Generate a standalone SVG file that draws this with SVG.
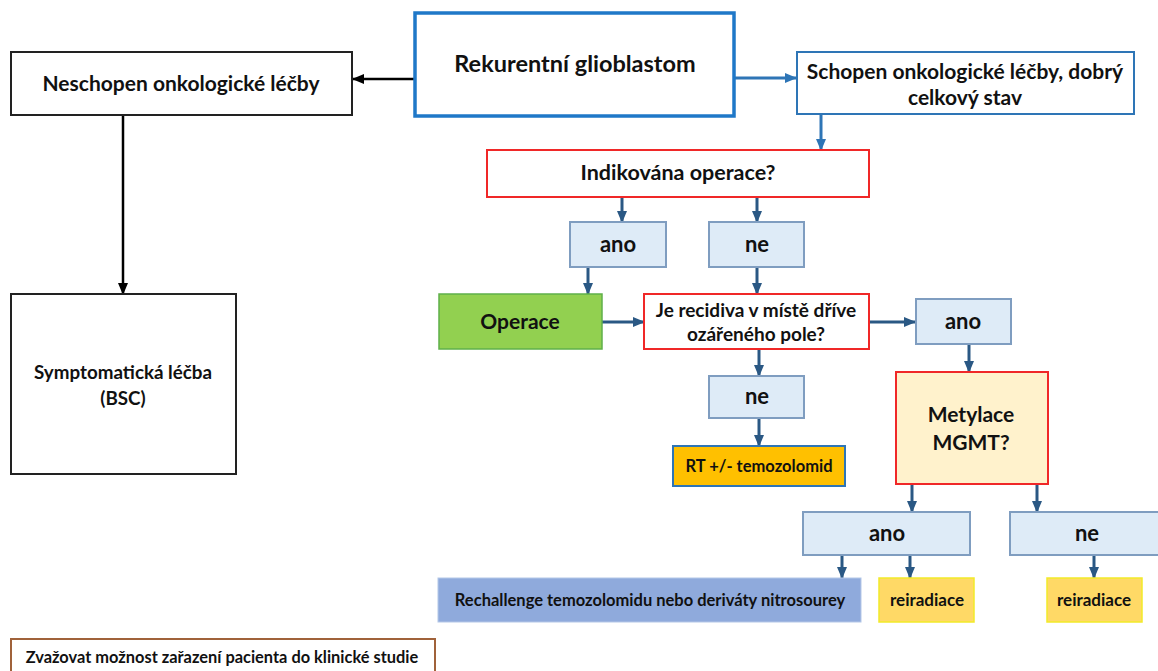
<svg xmlns="http://www.w3.org/2000/svg" width="1158" height="671" viewBox="0 0 1158 671">
<defs>
<style>
text{font-family:Lato,"Liberation Sans",sans-serif;font-weight:bold;fill:#111;text-anchor:middle}
.t23{font-size:23.5px}.t21{font-size:21px}.t22{font-size:22px}.t19{font-size:18.8px}.t17{font-size:19px}.t16{font-size:16.5px}
.blk{fill:#fff;stroke:#222;stroke-width:2}
.blu{fill:#fff;stroke:#2E75B6;stroke-width:2}
.red{fill:#fff;stroke:#F02828;stroke-width:2}
.lb{fill:#DEEBF7;stroke:#7F9DC0;stroke-width:2}
.yel{fill:#FFD966;stroke:#F2EA2A;stroke-width:1.5}
.ca{fill:none;stroke:#2A5884;stroke-width:3}
.cb{fill:none;stroke:#2E75B6;stroke-width:3}
.ck{fill:none;stroke:#000;stroke-width:2.5}
</style>
<marker id="ad" markerUnits="userSpaceOnUse" markerWidth="12" markerHeight="12" refX="11" refY="6" orient="auto"><path d="M0,1 L12,6 L0,11 Z" fill="#2A5884"/></marker>
<marker id="ab" markerUnits="userSpaceOnUse" markerWidth="12" markerHeight="12" refX="11" refY="6" orient="auto"><path d="M0,1 L12,6 L0,11 Z" fill="#2E75B6"/></marker>
<marker id="ak" markerUnits="userSpaceOnUse" markerWidth="12" markerHeight="12" refX="11" refY="6" orient="auto"><path d="M0,1 L12,6 L0,11 Z" fill="#000"/></marker>
</defs>
<rect width="1158" height="671" fill="#fff"/>
<g id="connectors">
<line class="ck" x1="414" y1="79" x2="353" y2="79" marker-end="url(#ak)"/>
<line class="ck" x1="123" y1="116" x2="123" y2="294" marker-end="url(#ak)"/>
<line class="cb" x1="734" y1="78" x2="796" y2="78" marker-end="url(#ab)"/>
<line class="cb" x1="821" y1="114" x2="821" y2="150" marker-end="url(#ab)"/>
<line class="ca" x1="622" y1="197" x2="622" y2="222" marker-end="url(#ad)"/>
<line class="ca" x1="757" y1="197" x2="757" y2="222" marker-end="url(#ad)"/>
<line class="ca" x1="588" y1="267" x2="588" y2="294" marker-end="url(#ad)"/>
<line class="ca" x1="757" y1="267" x2="757" y2="294" marker-end="url(#ad)"/>
<line class="ca" x1="602" y1="322" x2="644" y2="322" marker-end="url(#ad)"/>
<line class="ca" x1="869" y1="322" x2="915" y2="322" marker-end="url(#ad)"/>
<line class="ca" x1="759" y1="349" x2="759" y2="376" marker-end="url(#ad)"/>
<line class="ca" x1="759" y1="418" x2="759" y2="446" marker-end="url(#ad)"/>
<line class="ca" x1="969" y1="344" x2="969" y2="372" marker-end="url(#ad)"/>
<line class="ca" x1="912" y1="484" x2="912" y2="512" marker-end="url(#ad)"/>
<line class="ca" x1="1037" y1="484" x2="1037" y2="512" marker-end="url(#ad)"/>
<line class="ca" x1="842" y1="555" x2="842" y2="578" marker-end="url(#ad)"/>
<line class="ca" x1="910" y1="555" x2="910" y2="578" marker-end="url(#ad)"/>
<line class="ca" x1="1094" y1="555" x2="1094" y2="578" marker-end="url(#ad)"/>
</g>
<g id="rekurentni"><rect x="415" y="13" width="319" height="103" fill="#fff" stroke="#1F78C8" stroke-width="3.5"/><text class="t23" x="575" y="72">Rekurentní glioblastom</text></g>
<g id="neschopen"><rect class="blk" x="11" y="52" width="341" height="63"/><text class="t21" x="181" y="91">Neschopen onkologické léčby</text></g>
<g id="symptomaticka"><rect class="blk" x="11" y="294" width="225" height="180"/><text class="t19" x="123" y="379">Symptomatická léčba</text><text class="t19" x="123" y="405">(BSC)</text></g>
<g id="schopen"><rect class="blu" x="797" y="52" width="337" height="62"/><text class="t21" x="965" y="79">Schopen onkologické léčby, dobrý</text><text class="t21" x="965" y="105">celkový stav</text></g>
<g id="indikovana"><rect class="red" x="487" y="150" width="382" height="47"/><text class="t21" x="678" y="180" style="font-size:21.5px">Indikována operace?</text></g>
<g id="ano1"><rect class="lb" x="570" y="222" width="96" height="45"/><text class="t22" x="618" y="252">ano</text></g>
<g id="ne1"><rect class="lb" x="709" y="222" width="95" height="45"/><text class="t22" x="757" y="252">ne</text></g>
<g id="operace"><rect x="439" y="294" width="163" height="55" fill="#92D050" stroke="#5FB04A" stroke-width="1.5"/><text class="t21" x="520" y="329">Operace</text></g>
<g id="recidiva"><rect class="red" x="644" y="294" width="225" height="55"/><text class="t17" x="756" y="317">Je recidiva v místě dříve</text><text class="t17" x="756" y="341">ozářeného pole?</text></g>
<g id="ano2"><rect class="lb" x="916" y="299" width="95" height="45"/><text class="t22" x="963" y="329">ano</text></g>
<g id="ne2"><rect class="lb" x="709" y="376" width="95" height="42"/><text class="t22" x="757" y="404">ne</text></g>
<g id="rt"><rect x="673" y="446" width="172" height="40" fill="#FFC000" stroke="#2E75B6" stroke-width="2"/><text class="t16" x="759" y="472">RT +/- temozolomid</text></g>
<g id="metylace"><rect x="896" y="372" width="152" height="112" fill="#FFF2CC" stroke="#F02828" stroke-width="2"/><text class="t21" x="971" y="422">Metylace</text><text class="t21" x="971" y="450">MGMT?</text></g>
<g id="ano3"><rect class="lb" x="803" y="512" width="167" height="43"/><text class="t22" x="887" y="541">ano</text></g>
<g id="ne3"><rect class="lb" x="1010" y="512" width="154" height="43"/><text class="t22" x="1087" y="541">ne</text></g>
<g id="rechallenge"><rect x="438" y="578" width="423" height="44" fill="#8FAADC" stroke="#B4C7E7" stroke-width="1"/><text class="t16" x="650" y="606">Rechallenge temozolomidu nebo deriváty nitrosourey</text></g>
<g id="reiradiace1"><rect class="yel" x="879" y="578" width="95" height="44"/><text class="t16" x="927" y="606" style="font-size:17px">reiradiace</text></g>
<g id="reiradiace2"><rect class="yel" x="1047" y="578" width="95" height="44"/><text class="t16" x="1094" y="606" style="font-size:17px">reiradiace</text></g>
<g id="studie"><rect x="11" y="639" width="424" height="40" fill="#fff" stroke="#A0623A" stroke-width="2"/><text class="t16" x="222" y="663" style="font-size:16.4px">Zvažovat možnost zařazení pacienta do klinické studie</text></g>
</svg>
